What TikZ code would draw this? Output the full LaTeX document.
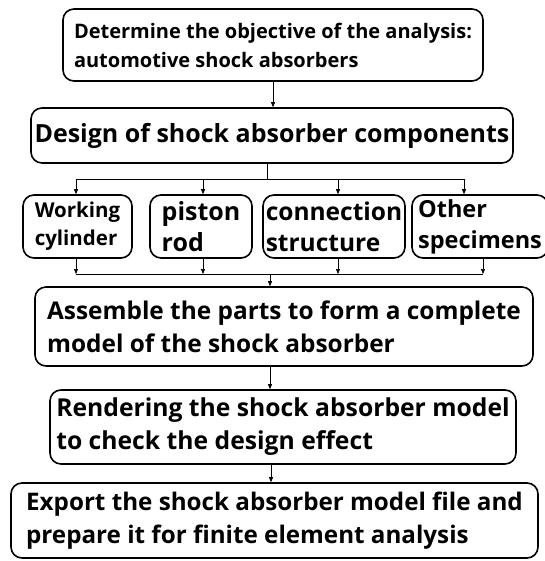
\documentclass[tikz,border=0pt]{standalone}
\usepackage{fontspec}
\setmainfont{Open Sans}
\usetikzlibrary{arrows.meta}

\begin{document}
\begin{tikzpicture}[x=1pt, y=-1pt, >={Triangle[length=5pt, width=4pt]}, line width=0.6pt,
    box/.style={draw, line width=1.6pt, rounded corners=11pt, align=left, inner sep=2pt}]
    \useasboundingbox (0, 0) rectangle (544, 561);

    % BLOCKS
    \node (obj) at (273, 45) [box, minimum width=420, minimum height=72, font=\fontsize{20}{29}\selectfont\bfseries] {Determine the objective of the analysis:\\automotive shock absorbers};
    \node (design) at (272, 135.5) [box, minimum width=482, minimum height=55, font=\fontsize{25}{32}\selectfont\bfseries] {Design of shock absorber components};

    \node (cyl) at (77.5, 226.5) [box, minimum width=109, minimum height=63, font=\fontsize{20.5}{28}\selectfont\bfseries] {Working\\cylinder};
    \node (rod) at (201, 226.5) [box, minimum width=102, minimum height=63, font=\fontsize{25}{31}\selectfont\bfseries] {piston\\rod};
    \node (conn) at (334, 226.5) [box, minimum width=142, minimum height=63, font=\fontsize{24.5}{31}\selectfont\bfseries] {connection\\structure};
    \node (other) at (480, 226.5) [box, minimum width=136, minimum height=63, font=\fontsize{23.5}{31}\selectfont\bfseries] {Other\\specimens};

    \node (assemble) at (284, 326.5) [box, minimum width=498, minimum height=79, font=\fontsize{24.4}{33}\selectfont\bfseries] {Assemble the parts to form a complete\\model of the shock absorber};
    \node (render) at (283, 427) [box, minimum width=466, minimum height=74, font=\fontsize{24.7}{33}\selectfont\bfseries] {Rendering the shock absorber model\\to check the design effect};
    \node (export) at (274.5, 520.5) [box, minimum width=527, minimum height=75, font=\fontsize{24.2}{33}\selectfont\bfseries] {Export the shock absorber model file and\\prepare it for finite element analysis};

    % CONNEXIONS
    \draw[->] (obj.south) -- (obj.south |- design.north);

    % Split to the components
    \coordinate (split) at (267, 179);
    \coordinate (s1) at (76, 179);
    \coordinate (s2) at (203, 179);
    \coordinate (s3) at (338, 179);
    \coordinate (s4) at (464, 179);
    \draw (design.south -| split) -- (split);
    \draw (s1) -- (s4);
    \draw[->] (s1) -- (s1 |- cyl.north);
    \draw[->] (s2) -- (s2 |- rod.north);
    \draw[->] (s3) -- (s3 |- conn.north);
    \draw[->] (s4) -- (s4 |- other.north);

    % Merge of the components
    \coordinate (merge) at (270, 274);
    \coordinate (m1) at (76, 274);
    \coordinate (m2) at (203, 274);
    \coordinate (m3) at (338, 274);
    \coordinate (m4) at (483, 274);
    \draw[->] (cyl.south -| m1) -- (m1);
    \draw[->] (rod.south -| m2) -- (m2);
    \draw[->] (conn.south -| m3) -- (m3);
    \draw[->] (other.south -| m4) -- (m4);
    \draw (m1) -- (m4);
    \draw[->] (merge) -- (merge |- assemble.north);

    \draw[->] (assemble.south -| merge) -- (merge |- render.north);
    \draw[->] (render.south -| 271, 0) -- (271, 0 |- export.north);
\end{tikzpicture}
\end{document}
